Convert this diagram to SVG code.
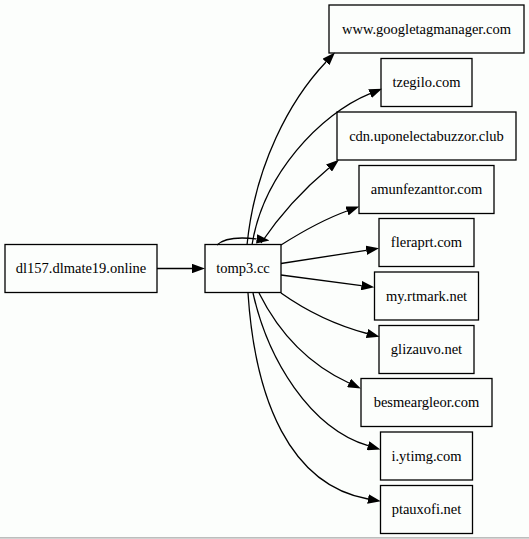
<svg xmlns="http://www.w3.org/2000/svg" width="529" height="539" viewBox="0 0 529 539">
<style>
.node rect{fill:none;stroke:#000;stroke-width:1.3}
.node text{font-family:"Liberation Serif","Times New Roman",serif;font-size:14.5px;fill:#000;text-anchor:middle}
.edges path{fill:none;stroke:#000;stroke-width:1.3;marker-end:url(#ah)}
</style>
<defs>
<marker id="ah" markerUnits="userSpaceOnUse" viewBox="0 0 13 9.4" markerWidth="13" markerHeight="9.4" refX="0" refY="4.7" orient="auto">
<path d="M0,0 L13,4.7 L0,9.4 z" fill="#000"/>
</marker>
</defs>
<rect x="0" y="0" width="529" height="539" fill="#fcfefc"/>
<line x1="0" y1="537.8" x2="529" y2="537.8" stroke="#a8a8a8" stroke-width="1.3"/>
<g id="edges" class="edges">
<path d="M157,268.5 L192,268.5"/>
<path d="M217,245 C224,238 240,237 256.6,238.9"/>
<path d="M247,245 C255,165 290,100 326,62"/>
<path d="M252,245 C263,175 320,114 370,93.6"/>
<path d="M261,243 C280,215 305,188 329,168"/>
<path d="M281,245 C300,233 322,220 347,211"/>
<path d="M281,263.5 L366.2,250.3"/>
<path d="M281,275 L361.4,285.6"/>
<path d="M281,293 C305,310 335,325 367,333.5"/>
<path d="M259,293 C280,335 310,365 349,383"/>
<path d="M253,293 C268,360 310,428 368,445.7"/>
<path d="M248,293 C255,400 290,485 368,499"/>
</g>
<g id="n_dl157" class="node"><rect x="5" y="244.5" width="152" height="48"/><text x="81" y="273">dl157.dlmate19.online</text></g>
<g id="n_tomp3" class="node"><rect x="205" y="244.5" width="76" height="48"/><text x="243" y="273">tomp3.cc</text></g>
<g id="n_gtm" class="node"><rect x="329" y="5" width="195" height="48"/><text x="426.5" y="33.5">www.googletagmanager.com</text></g>
<g id="n_tzegilo" class="node"><rect x="381" y="58.5" width="91" height="48"/><text x="426.5" y="87">tzegilo.com</text></g>
<g id="n_cdn" class="node"><rect x="337" y="112" width="179" height="48"/><text x="426.5" y="140.5">cdn.uponelectabuzzor.club</text></g>
<g id="n_amun" class="node"><rect x="359" y="165.5" width="135" height="48"/><text x="426.5" y="194">amunfezanttor.com</text></g>
<g id="n_flera" class="node"><rect x="379" y="218.5" width="95" height="48"/><text x="426.5" y="247">fleraprt.com</text></g>
<g id="n_rtmark" class="node"><rect x="374.5" y="272" width="104" height="48"/><text x="426.5" y="300.5">my.rtmark.net</text></g>
<g id="n_gliz" class="node"><rect x="379" y="325.5" width="95" height="48"/><text x="426.5" y="354">glizauvo.net</text></g>
<g id="n_besm" class="node"><rect x="361" y="378.5" width="131" height="48"/><text x="426.5" y="407">besmeargleor.com</text></g>
<g id="n_ytimg" class="node"><rect x="380.5" y="432" width="92" height="48"/><text x="426.5" y="460.5">i.ytimg.com</text></g>
<g id="n_ptaux" class="node"><rect x="380.5" y="485.5" width="92" height="48"/><text x="426.5" y="514">ptauxofi.net</text></g>
</svg>
